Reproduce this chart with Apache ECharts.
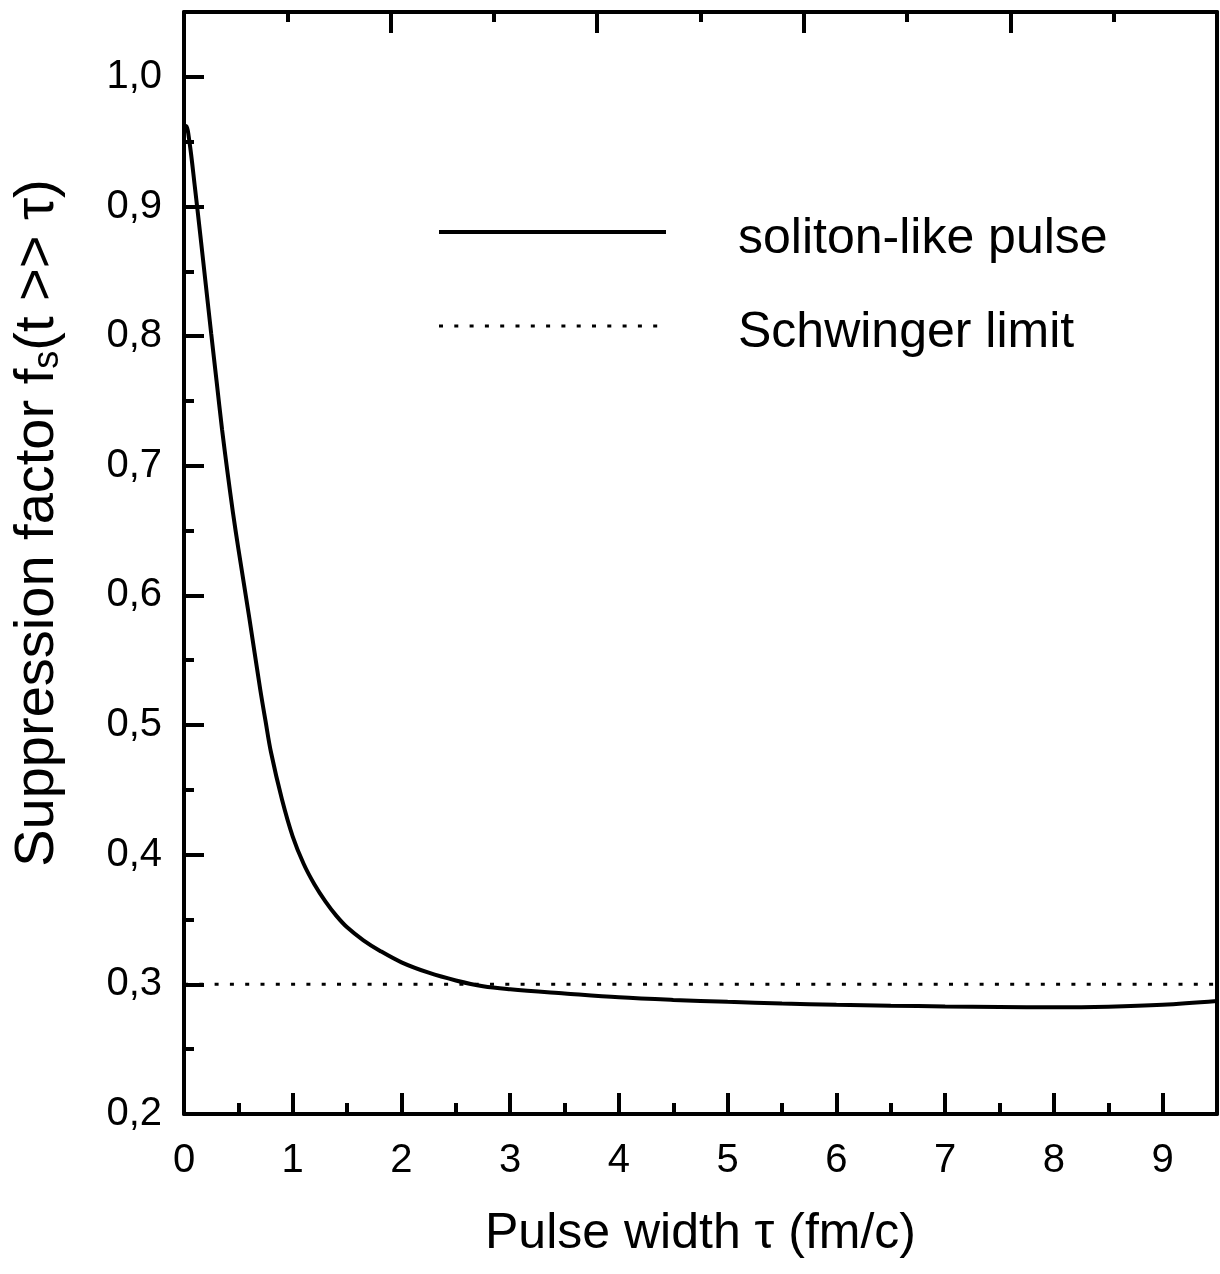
<!DOCTYPE html>
<html>
<head>
<meta charset="utf-8">
<script src="https://cdn.jsdelivr.net/npm/echarts@6/dist/echarts.min.js"></script>
<style>html,body{margin:0;padding:0;background:#fff}#c{width:1220px;height:1274px}</style>
</head>
<body>
<div id="c"></div>
<script>
// Pulse width tau (fm/c)
const tau = [0, 0.02, 0.05, 0.1, 0.15, 0.2, 0.25, 0.3, 0.35, 0.4, 0.45, 0.5, 0.6, 0.7, 0.75, 0.8, 0.9, 1.0,
  1.1, 1.2, 1.3, 1.4, 1.5, 1.65, 1.8, 2.0, 2.25, 2.5, 2.75, 3.0, 3.5, 4.0, 4.5, 5.0, 5.5, 6.0, 6.5,
  7.0, 7.5, 8.0, 8.5, 9.0, 9.5];
// Suppression factor f_s (soliton-like pulse)
const soliton = [0.957, 0.962, 0.950, 0.915, 0.878, 0.840, 0.802, 0.765, 0.728, 0.695, 0.664, 0.636, 0.583, 0.528, 0.503, 0.479, 0.443, 0.414,
  0.393, 0.377, 0.364, 0.353, 0.344, 0.334, 0.326, 0.317, 0.309, 0.303, 0.2985, 0.2962, 0.2930, 0.2900, 0.2880, 0.2865, 0.2852, 0.2842, 0.2835,
  0.2830, 0.2826, 0.2823, 0.2828, 0.2843, 0.2872];
// Schwinger limit
const schwingerX = [0, 9.5];
const schwingerY = [0.3, 0.3];
const seriesNames = ['soliton-like pulse', 'Schwinger limit'];
const xRange = [0, 9.5];
const yRange = [0.2, 1.05];

const FONT = 'Liberation Sans, Arial, Helvetica, sans-serif';
const chart = echarts.init(document.getElementById('c'), null, {renderer: 'canvas'});
const black = '#000';
const axisLine = {show: true, onZero: false, lineStyle: {color: black, width: 4}};
const noLabel = {show: false};
const dotted = [4, 11.3];

const option = {
  animation: false,
  backgroundColor: '#fff',
  grid: {left: 184, right: 3, top: 12, bottom: 160, containLabel: false, outerBoundsMode: 'none'},
  legend: {
    orient: 'vertical', left: 437, top: 200, padding: 0,
    itemWidth: 227, itemHeight: 4, itemGap: 30,
    selectedMode: false,
    itemStyle: {opacity: 0},
    formatter: '{t|{name}}',
    textStyle: {fontFamily: FONT, fontSize: 50, lineHeight: 56, color: black,
      rich: {t: {fontFamily: FONT, fontSize: 50, lineHeight: 56, color: black, padding: [14, 0, 0, 67]}}},
    data: [
      {name: seriesNames[0], lineStyle: {width: 4, color: black}},
      {name: seriesNames[1], lineStyle: {width: 3, color: black, type: dotted}}
    ]
  },
  xAxis: [
    {
      type: 'value', min: xRange[0], max: xRange[1], interval: 1, position: 'bottom',
      axisLine: axisLine,
      axisTick: {show: true, inside: true, length: 21, lineStyle: {color: black, width: 4}},
      axisLabel: {show: true, fontFamily: FONT, fontSize: 40, color: black, margin: 27, showMaxLabel: false,
        formatter: v => String(Math.round(v))},
      splitLine: {show: false},
      name: 'Pulse width τ (fm/c)', nameLocation: 'middle', nameGap: 95,
      nameTextStyle: {fontFamily: FONT, fontSize: 50, color: black}
    },
    {
      type: 'value', min: xRange[0], max: xRange[1], interval: 0.5, position: 'bottom',
      axisLine: {show: false},
      axisTick: {show: true, inside: true, length: 11, lineStyle: {color: black, width: 4}},
      axisLabel: noLabel, splitLine: {show: false}
    },
    {
      type: 'value', min: 0, max: 5, interval: 1, position: 'top',
      axisLine: axisLine,
      axisTick: {show: true, inside: true, length: 21, lineStyle: {color: black, width: 4}},
      minorTick: {show: true, splitNumber: 2, length: 10, lineStyle: {color: black, width: 4}},
      axisLabel: noLabel, splitLine: {show: false}
    }
  ],
  yAxis: [
    {
      type: 'value', min: yRange[0], max: yRange[1], interval: 0.1, position: 'left',
      axisLine: axisLine,
      axisTick: {show: true, inside: true, length: 20, lineStyle: {color: black, width: 4}},
      axisLabel: {show: true, fontFamily: FONT, fontSize: 40, color: black, margin: 22, showMaxLabel: false,
        formatter: v => v.toFixed(1).replace('.', ',')},
      splitLine: {show: false},
      name: 'Suppression factor f{s|s}(t >> τ)', nameLocation: 'middle', nameGap: 118,
      nameTextStyle: {fontFamily: FONT, fontSize: 56, color: black, padding: [0, 0, 0, 80],
        rich: {s: {fontFamily: FONT, fontSize: 36, lineHeight: 36, verticalAlign: 'bottom', padding: [30, 0, 0, 0], color: black}}}
    },
    {
      type: 'value', min: yRange[0], max: yRange[1], interval: 0.05, position: 'left',
      axisLine: {show: false},
      axisTick: {show: true, inside: true, length: 10, lineStyle: {color: black, width: 4}},
      axisLabel: noLabel, splitLine: {show: false}
    },
    {
      type: 'value', min: yRange[0], max: yRange[1], position: 'right',
      axisLine: axisLine, axisTick: {show: false}, axisLabel: noLabel, splitLine: {show: false}
    }
  ],
  series: [
    {
      name: seriesNames[0], type: 'line', xAxisIndex: 0, yAxisIndex: 0,
      data: tau.map((t, i) => [t, soliton[i]]),
      symbol: 'none', smooth: 0.35,
      lineStyle: {color: black, width: 4}, itemStyle: {color: black}
    },
    {
      name: seriesNames[1], type: 'line', xAxisIndex: 0, yAxisIndex: 0,
      data: schwingerX.map((x, i) => [x, schwingerY[i]]),
      symbol: 'none',
      lineStyle: {color: black, width: 3, type: dotted, cap: 'butt'}, itemStyle: {color: black}
    }
  ]
};
chart.setOption(option);
</script>
</body>
</html>
